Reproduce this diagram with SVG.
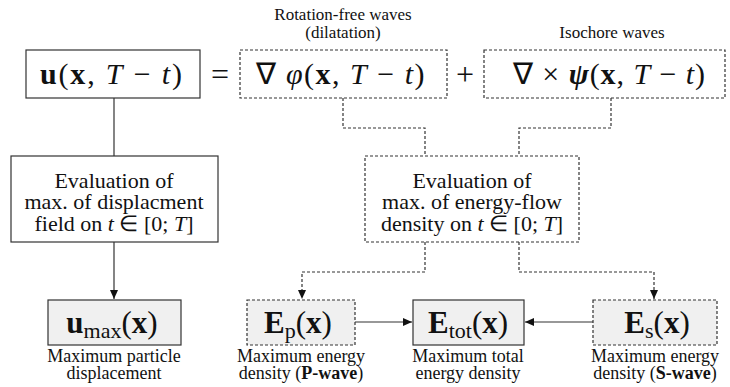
<svg xmlns="http://www.w3.org/2000/svg" width="730" height="387" viewBox="0 0 730 387" font-family="'Liberation Serif', serif">
<style>
text{fill:#111;text-anchor:middle;font-family:"Liberation Serif",serif !important}
.solid{fill:#fff;stroke:#333;stroke-width:1.2}
.dash{fill:#fff;stroke:#333;stroke-width:1.2;stroke-dasharray:3 2}
.gray{fill:#f0f0f0}
.ln{fill:none;stroke:#333;stroke-width:1.2}
.dl{fill:none;stroke:#333;stroke-width:1.2;stroke-dasharray:3 2}
.b{font-weight:bold}
.i{font-style:italic}
</style>
<defs>
<marker id="ah" markerWidth="10" markerHeight="10" refX="9" refY="5" orient="auto" markerUnits="userSpaceOnUse">
<path d="M0,1 L9,5 L0,9 Z" fill="#111"/>
</marker>
</defs>
<g id="connectors">
<path class="ln" d="M114,98 V156"/>
<path class="ln" d="M114,242 V299" marker-end="url(#ah)"/>
<path class="dl" d="M343,98 V128 H425 V156"/>
<path class="dl" d="M611,98 V128 H519 V156"/>
<path class="dl" d="M425,242 V272 H302 V299" marker-end="url(#ah)"/>
<path class="dl" d="M519,242 V272 H654 V299" marker-end="url(#ah)"/>
<path class="ln" d="M355,322 H412" marker-end="url(#ah)"/>
<path class="ln" d="M593,322 H525" marker-end="url(#ah)"/>
</g>
<g id="u">
<rect class="solid" x="26" y="50" width="174" height="48"/>
<text style="font-family:'Liberation Serif',serif" font-size="30" x="111" y="84" textLength="142" lengthAdjust="spacing"><tspan class="b">u</tspan>(<tspan class="b">x</tspan>, <tspan class="i">T</tspan> − <tspan class="i">t</tspan>)</text>
</g>
<text style="font-family:'Liberation Serif',serif" font-size="32" x="220" y="85">=</text>
<g id="phi">
<text style="font-family:'Liberation Serif',serif" font-size="17" x="343" y="20">Rotation-free waves</text>
<text style="font-family:'Liberation Serif',serif" font-size="17" x="343" y="38">(dilatation)</text>
<rect class="dash" x="240" y="50" width="207" height="48"/>
<text style="font-family:'Liberation Serif',serif" font-size="30" x="340" y="84" textLength="169" lengthAdjust="spacing">∇ <tspan class="i">φ</tspan>(<tspan class="b">x</tspan>, <tspan class="i">T</tspan> − <tspan class="i">t</tspan>)</text>
</g>
<text style="font-family:'Liberation Serif',serif" font-size="32" x="465" y="85">+</text>
<g id="psi">
<text style="font-family:'Liberation Serif',serif" font-size="17" x="612" y="38">Isochore waves</text>
<rect class="dash" x="484" y="50" width="241" height="48"/>
<text style="font-family:'Liberation Serif',serif" font-size="30" x="609" y="84" textLength="192" lengthAdjust="spacing">∇ × <tspan class="b i">ψ</tspan>(<tspan class="b">x</tspan>, <tspan class="i">T</tspan> − <tspan class="i">t</tspan>)</text>
</g>
<g id="eval1">
<rect class="solid" x="11" y="156" width="207" height="86"/>
<text style="font-family:'Liberation Serif',serif" font-size="22" x="114" y="188">Evaluation of</text>
<text style="font-family:'Liberation Serif',serif" font-size="22" x="114" y="209">max. of displacment</text>
<text style="font-family:'Liberation Serif',serif" font-size="22" x="114" y="231">field on <tspan class="i">t</tspan> ∈ [0; <tspan class="i">T</tspan>]</text>
</g>
<g id="eval2">
<rect class="dash" x="365" y="156" width="214" height="86"/>
<text style="font-family:'Liberation Serif',serif" font-size="22" x="472" y="188">Evaluation of</text>
<text style="font-family:'Liberation Serif',serif" font-size="22" x="472" y="209">max. of energy-flow</text>
<text style="font-family:'Liberation Serif',serif" font-size="22" x="472" y="231">density on <tspan class="i">t</tspan> ∈ [0; <tspan class="i">T</tspan>]</text>
</g>
<g id="umax">
<rect class="solid gray" x="48" y="300" width="133" height="45"/>
<text style="font-family:'Liberation Serif',serif" font-size="31" x="112" y="333"><tspan class="b">u</tspan><tspan font-size="22" dy="5">max</tspan><tspan dy="-5">(</tspan><tspan class="b">x</tspan>)</text>
<text style="font-family:'Liberation Serif',serif" font-size="18" x="114" y="362">Maximum particle</text>
<text style="font-family:'Liberation Serif',serif" font-size="18" x="114" y="379">displacement</text>
</g>
<g id="ep">
<rect class="dash gray" x="247" y="300" width="108" height="45"/>
<text style="font-family:'Liberation Serif',serif" font-size="31" x="298" y="333"><tspan class="b">E</tspan><tspan font-size="22" dy="5">p</tspan><tspan dy="-5">(</tspan><tspan class="b">x</tspan>)</text>
<text style="font-family:'Liberation Serif',serif" font-size="18" x="301" y="362">Maximum energy</text>
<text style="font-family:'Liberation Serif',serif" font-size="18" x="301" y="379">density (<tspan class="b">P-wave</tspan>)</text>
</g>
<g id="etot">
<rect class="solid gray" x="413" y="300" width="111" height="45"/>
<text style="font-family:'Liberation Serif',serif" font-size="31" x="468" y="333"><tspan class="b">E</tspan><tspan font-size="22" dy="5">tot</tspan><tspan dy="-5">(</tspan><tspan class="b">x</tspan>)</text>
<text style="font-family:'Liberation Serif',serif" font-size="18" x="468" y="362">Maximum total</text>
<text style="font-family:'Liberation Serif',serif" font-size="18" x="468" y="379">energy density</text>
</g>
<g id="es">
<rect class="dash gray" x="593" y="300" width="124" height="45"/>
<text style="font-family:'Liberation Serif',serif" font-size="31" x="657" y="333"><tspan class="b">E</tspan><tspan font-size="22" dy="5">s</tspan><tspan dy="-5">(</tspan><tspan class="b">x</tspan>)</text>
<text style="font-family:'Liberation Serif',serif" font-size="18" x="655" y="362">Maximum energy</text>
<text style="font-family:'Liberation Serif',serif" font-size="18" x="655" y="379">density (<tspan class="b">S-wave</tspan>)</text>
</g>
</svg>
